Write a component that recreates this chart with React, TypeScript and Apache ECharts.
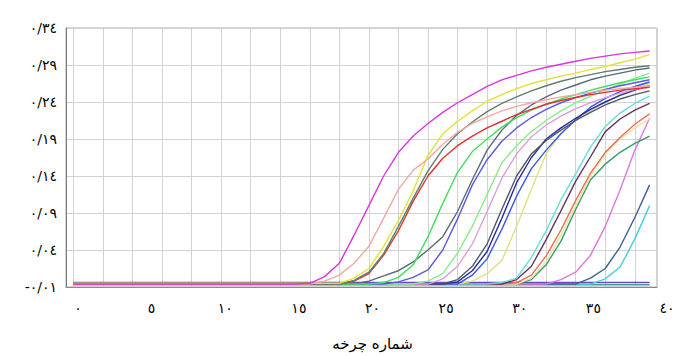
import React, { useEffect, useRef } from "react";
import * as echarts from "echarts";

// Cycles 1..40
const cycles = [
  1, 2, 3, 4, 5, 6, 7, 8, 9, 10, 11, 12, 13, 14, 15, 16, 17, 18, 19, 20,
  21, 22, 23, 24, 25, 26, 27, 28, 29, 30, 31, 32, 33, 34, 35, 36, 37, 38, 39, 40,
];

// Tick labels (values) of the axes
const yTicks = { min: -0.01, max: 0.34, step: 0.05 };
const xTicks = { min: 0, max: 40, step: 5 };
const xTitle = "شماره چرخه";

// Fluorescence per cycle (cycles 1..40)
const magenta = [
  -0.006, -0.006, -0.006, -0.006, -0.006, -0.006, -0.006, -0.006, -0.006, -0.006,
  -0.006, -0.006, -0.006, -0.006, -0.006, -0.006, -0.005, 0.004, 0.022, 0.06,
  0.1, 0.14, 0.172, 0.194, 0.211, 0.226, 0.239, 0.25, 0.261, 0.27,
  0.276, 0.282, 0.287, 0.291, 0.295, 0.299, 0.302, 0.305, 0.307, 0.309,
];
const salmon = [
  -0.006, -0.006, -0.006, -0.006, -0.006, -0.006, -0.006, -0.006, -0.006, -0.006,
  -0.006, -0.006, -0.006, -0.006, -0.006, -0.006, -0.006, -0.002, 0.006, 0.022,
  0.045, 0.083, 0.122, 0.148, 0.163, 0.183, 0.199, 0.211, 0.22, 0.228,
  0.234, 0.239, 0.243, 0.247, 0.25, 0.253, 0.256, 0.258, 0.26, 0.262,
];
const yellow = [
  -0.005, -0.005, -0.005, -0.005, -0.005, -0.005, -0.005, -0.005, -0.005, -0.005,
  -0.005, -0.005, -0.005, -0.005, -0.005, -0.005, -0.005, -0.005, -0.005, 0.002,
  0.015, 0.045, 0.08, 0.12, 0.168, 0.197, 0.214, 0.228, 0.241, 0.25,
  0.258, 0.265, 0.27, 0.275, 0.279, 0.284, 0.288, 0.293, 0.298, 0.304,
];
const slateGreen = [
  -0.006, -0.006, -0.006, -0.006, -0.006, -0.006, -0.006, -0.006, -0.006, -0.006,
  -0.006, -0.006, -0.006, -0.006, -0.006, -0.006, -0.006, -0.006, -0.006, -0.001,
  0.01, 0.035, 0.072, 0.11, 0.147, 0.176, 0.197, 0.213, 0.227, 0.238,
  0.247, 0.255, 0.262, 0.268, 0.273, 0.277, 0.281, 0.284, 0.287, 0.289,
];
const red = [
  -0.006, -0.006, -0.006, -0.006, -0.006, -0.006, -0.006, -0.006, -0.006, -0.006,
  -0.006, -0.006, -0.006, -0.006, -0.006, -0.006, -0.006, -0.006, -0.006, -0.002,
  0.008, 0.033, 0.066, 0.106, 0.14, 0.164, 0.181, 0.194, 0.205, 0.214,
  0.223, 0.23, 0.237, 0.242, 0.246, 0.25, 0.253, 0.256, 0.258, 0.26,
];
const green = [
  -0.006, -0.006, -0.006, -0.006, -0.006, -0.006, -0.006, -0.006, -0.006, -0.006,
  -0.006, -0.006, -0.006, -0.006, -0.006, -0.006, -0.006, -0.006, -0.006, -0.006,
  -0.006, -0.004, 0.003, 0.02, 0.058, 0.103, 0.145, 0.173, 0.19, 0.206,
  0.219, 0.229, 0.237, 0.244, 0.25, 0.256, 0.261, 0.266, 0.27, 0.274,
];
const slateGray = [
  -0.006, -0.006, -0.006, -0.006, -0.006, -0.006, -0.006, -0.006, -0.006, -0.006,
  -0.006, -0.006, -0.006, -0.006, -0.006, -0.006, -0.006, -0.006, -0.006, -0.006,
  -0.002, 0.005, 0.012, 0.024, 0.04, 0.058, 0.092, 0.135, 0.175, 0.202,
  0.222, 0.236, 0.247, 0.256, 0.263, 0.27, 0.275, 0.279, 0.283, 0.286,
];
const mediumBlue = [
  -0.006, -0.006, -0.006, -0.006, -0.006, -0.006, -0.006, -0.006, -0.006, -0.006,
  -0.006, -0.006, -0.006, -0.006, -0.006, -0.006, -0.006, -0.006, -0.006, -0.006,
  -0.006, -0.006, -0.003, 0.003, 0.013, 0.04, 0.082, 0.128, 0.162, 0.187,
  0.205, 0.219, 0.23, 0.239, 0.246, 0.252, 0.257, 0.262, 0.266, 0.27,
];
const lightGreen = [
  -0.006, -0.006, -0.006, -0.006, -0.006, -0.006, -0.006, -0.006, -0.006, -0.006,
  -0.006, -0.006, -0.006, -0.006, -0.006, -0.006, -0.006, -0.006, -0.006, -0.006,
  -0.006, -0.006, -0.006, -0.006, -0.002, 0.008, 0.036, 0.072, 0.115, 0.158,
  0.181, 0.2, 0.215, 0.228, 0.239, 0.248, 0.256, 0.264, 0.272, 0.279,
];
const plum = [
  -0.006, -0.006, -0.006, -0.006, -0.006, -0.006, -0.006, -0.006, -0.006, -0.006,
  -0.006, -0.006, -0.006, -0.006, -0.006, -0.006, -0.006, -0.006, -0.006, -0.006,
  -0.006, -0.006, -0.006, -0.006, -0.006, 0.001, 0.018, 0.048, 0.092, 0.137,
  0.17, 0.193, 0.209, 0.221, 0.231, 0.239, 0.246, 0.252, 0.257, 0.261,
];
const darkSlate = [
  -0.006, -0.006, -0.006, -0.006, -0.006, -0.006, -0.006, -0.006, -0.006, -0.006,
  -0.006, -0.006, -0.006, -0.006, -0.006, -0.006, -0.006, -0.006, -0.006, -0.006,
  -0.006, -0.006, -0.006, -0.006, -0.006, -0.006, 0.0, 0.018, 0.048, 0.095,
  0.14, 0.17, 0.188, 0.202, 0.215, 0.226, 0.236, 0.244, 0.25, 0.255,
];
const navy = [
  -0.006, -0.006, -0.006, -0.006, -0.006, -0.006, -0.006, -0.006, -0.006, -0.006,
  -0.006, -0.006, -0.006, -0.006, -0.006, -0.006, -0.006, -0.006, -0.006, -0.006,
  -0.006, -0.006, -0.006, -0.006, -0.006, -0.006, -0.003, 0.012, 0.038, 0.083,
  0.131, 0.165, 0.19, 0.205, 0.218, 0.23, 0.24, 0.249, 0.256, 0.262,
];
const royalBlue = [
  -0.006, -0.006, -0.006, -0.006, -0.006, -0.006, -0.006, -0.006, -0.006, -0.006,
  -0.006, -0.006, -0.006, -0.006, -0.006, -0.006, -0.006, -0.006, -0.006, -0.006,
  -0.006, -0.006, -0.006, -0.006, -0.006, -0.006, -0.006, 0.006, 0.028, 0.068,
  0.113, 0.15, 0.175, 0.197, 0.216, 0.233, 0.245, 0.254, 0.261, 0.267,
];
const khaki = [
  -0.006, -0.006, -0.006, -0.006, -0.006, -0.006, -0.006, -0.006, -0.006, -0.006,
  -0.006, -0.006, -0.006, -0.006, -0.006, -0.006, -0.006, -0.006, -0.006, -0.006,
  -0.006, -0.006, -0.006, -0.006, -0.006, -0.006, -0.006, -0.002, 0.008, 0.026,
  0.072, 0.122, 0.17, 0.198, 0.215, 0.228, 0.24, 0.25, 0.258, 0.265,
];
const cyan = [
  -0.006, -0.006, -0.006, -0.006, -0.006, -0.006, -0.006, -0.006, -0.006, -0.006,
  -0.006, -0.006, -0.006, -0.006, -0.006, -0.006, -0.006, -0.006, -0.006, -0.006,
  -0.006, -0.006, -0.006, -0.006, -0.006, -0.006, -0.006, -0.006, -0.006, -0.004,
  0.002, 0.03, 0.066, 0.108, 0.143, 0.179, 0.207, 0.225, 0.238, 0.248,
];
const maroon = [
  -0.006, -0.006, -0.006, -0.006, -0.006, -0.006, -0.006, -0.006, -0.006, -0.006,
  -0.006, -0.006, -0.006, -0.006, -0.006, -0.006, -0.006, -0.006, -0.006, -0.006,
  -0.006, -0.006, -0.006, -0.006, -0.006, -0.006, -0.006, -0.006, -0.006, -0.006,
  0.0, 0.018, 0.054, 0.093, 0.133, 0.166, 0.2, 0.217, 0.229, 0.238,
];
const tomato = [
  -0.006, -0.006, -0.006, -0.006, -0.006, -0.006, -0.006, -0.006, -0.006, -0.006,
  -0.006, -0.006, -0.006, -0.006, -0.006, -0.006, -0.006, -0.006, -0.006, -0.006,
  -0.006, -0.006, -0.006, -0.006, -0.006, -0.006, -0.006, -0.006, -0.006, -0.006,
  -0.004, 0.006, 0.032, 0.067, 0.107, 0.144, 0.172, 0.192, 0.21, 0.224,
];
const paleYellow = [
  -0.006, -0.006, -0.006, -0.006, -0.006, -0.006, -0.006, -0.006, -0.006, -0.006,
  -0.006, -0.006, -0.006, -0.006, -0.006, -0.006, -0.006, -0.006, -0.006, -0.006,
  -0.006, -0.006, -0.006, -0.006, -0.006, -0.006, -0.006, -0.006, -0.006, -0.006,
  -0.006, 0.002, 0.024, 0.06, 0.1, 0.14, 0.17, 0.19, 0.205, 0.217,
];
const seaGreen = [
  -0.006, -0.006, -0.006, -0.006, -0.006, -0.006, -0.006, -0.006, -0.006, -0.006,
  -0.006, -0.006, -0.006, -0.006, -0.006, -0.006, -0.006, -0.006, -0.006, -0.006,
  -0.006, -0.006, -0.006, -0.006, -0.006, -0.006, -0.006, -0.006, -0.006, -0.006,
  -0.006, 0.0, 0.02, 0.052, 0.095, 0.135, 0.156, 0.172, 0.184, 0.194,
];
const orchid = [
  -0.006, -0.006, -0.006, -0.006, -0.006, -0.006, -0.006, -0.006, -0.006, -0.006,
  -0.006, -0.006, -0.006, -0.006, -0.006, -0.006, -0.006, -0.006, -0.006, -0.006,
  -0.006, -0.006, -0.006, -0.006, -0.006, -0.006, -0.006, -0.006, -0.006, -0.006,
  -0.006, -0.006, -0.006, 0.0, 0.01, 0.033, 0.072, 0.121, 0.175, 0.218,
];
const darkSlateBlue = [
  -0.006, -0.006, -0.006, -0.006, -0.006, -0.006, -0.006, -0.006, -0.006, -0.006,
  -0.006, -0.006, -0.006, -0.006, -0.006, -0.006, -0.006, -0.006, -0.006, -0.006,
  -0.006, -0.006, -0.006, -0.006, -0.006, -0.006, -0.006, -0.006, -0.006, -0.006,
  -0.006, -0.006, -0.006, -0.006, -0.006, 0.002, 0.015, 0.044, 0.084, 0.128,
];
const cyan2 = [
  -0.006, -0.006, -0.006, -0.006, -0.006, -0.006, -0.006, -0.006, -0.006, -0.006,
  -0.006, -0.006, -0.006, -0.006, -0.006, -0.006, -0.006, -0.006, -0.006, -0.006,
  -0.006, -0.006, -0.006, -0.006, -0.006, -0.006, -0.006, -0.006, -0.006, -0.006,
  -0.006, -0.006, -0.006, -0.006, -0.006, -0.006, 0.001, 0.017, 0.055, 0.1,
];
const flatPurple = [
  -0.004, -0.004, -0.004, -0.004, -0.004, -0.004, -0.004, -0.004, -0.004, -0.004,
  -0.004, -0.004, -0.004, -0.004, -0.004, -0.004, -0.004, -0.004, -0.004, -0.004,
  -0.004, -0.004, -0.004, -0.004, -0.004, -0.004, -0.004, -0.004, -0.004, -0.004,
  -0.004, -0.004, -0.004, -0.004, -0.004, -0.004, -0.004, -0.004, -0.004, -0.004,
];
const flatTeal = [
  -0.007, -0.007, -0.007, -0.007, -0.007, -0.007, -0.007, -0.007, -0.007, -0.007,
  -0.007, -0.007, -0.007, -0.007, -0.007, -0.007, -0.007, -0.007, -0.007, -0.007,
  -0.007, -0.007, -0.007, -0.007, -0.007, -0.007, -0.007, -0.007, -0.007, -0.007,
  -0.007, -0.007, -0.007, -0.007, -0.007, -0.007, -0.007, -0.007, -0.007, -0.007,
];

const curves: [number[], string][] = [
  [flatPurple, "#6a4ac0"],
  [flatTeal, "#4a9aaa"],
  [cyan2, "#44d0d8"],
  [darkSlateBlue, "#3f5f8f"],
  [orchid, "#de78de"],
  [seaGreen, "#3a9a6a"],
  [paleYellow, "#e6e6a0"],
  [tomato, "#ee6a5a"],
  [maroon, "#663355"],
  [cyan, "#66dcdc"],
  [khaki, "#e2e27e"],
  [royalBlue, "#3355ee"],
  [navy, "#2a2aa0"],
  [darkSlate, "#4a5a6a"],
  [plum, "#dca0dc"],
  [lightGreen, "#88ee88"],
  [mediumBlue, "#5a5ae0"],
  [slateGray, "#5a6878"],
  [green, "#3ee05a"],
  [red, "#e03030"],
  [slateGreen, "#5f7f6f"],
  [yellow, "#e2e238"],
  [salmon, "#f4a8a0"],
  [magenta, "#dd33dd"],
];

const toArabicDigits = (s: string) =>
  s.replace(/[0-9]/g, (d) => String.fromCharCode(0x0660 + Number(d))).replace(".", "/");

const FONT = "'DejaVu Sans', serif";

export default function App() {
  const ref = useRef<HTMLDivElement>(null);
  useEffect(() => {
    if (!ref.current) return;
    const chart = echarts.init(ref.current, undefined, { renderer: "svg" });
    chart.setOption({
      animation: false,
      backgroundColor: "#ffffff",
      grid: [
        { left: 66, right: 22, top: 28, bottom: 69, show: true, borderColor: "#a8a8a8", borderWidth: 1 },
        { left: 78, right: 12, top: 28, bottom: 69, show: false },
      ],
      xAxis: [
        {
          type: "category",
          gridIndex: 0,
          data: cycles.map(String),
          boundaryGap: true,
          axisLine: { show: true, onZero: false, lineStyle: { color: "#8a8a8a", width: 1 } },
          axisTick: { show: false },
          axisLabel: { show: false },
          splitLine: { show: true, alignWithLabel: true, lineStyle: { color: "#d2d2d2", width: 1 } },
        },
        {
          type: "value",
          gridIndex: 1,
          min: xTicks.min,
          max: xTicks.max,
          interval: xTicks.step,
          axisLine: { show: false, onZero: false },
          axisTick: { show: false },
          splitLine: { show: false },
          axisLabel: {
            margin: 20,
            color: "#000",
            fontSize: 14,
            fontFamily: FONT,
            formatter: (v: number) => toArabicDigits(String(Math.round(v))),
          },
          name: xTitle,
          nameLocation: "middle",
          nameGap: 55,
          nameTextStyle: { color: "#000", fontSize: 15, fontFamily: FONT },
        },
      ],
      yAxis: [
        {
          type: "value",
          gridIndex: 0,
          min: yTicks.min,
          max: yTicks.max,
          interval: yTicks.step,
          axisLine: { show: true, onZero: false, lineStyle: { color: "#7a7a7a", width: 1 } },
          axisTick: { show: false },
          splitLine: { show: true, lineStyle: { color: "#d2d2d2", width: 1 } },
          axisLabel: {
            margin: 9,
            color: "#000",
            fontSize: 14,
            fontFamily: FONT,
            padding: [0, 0, 6, 0],
            formatter: (v: number) => toArabicDigits((Math.round(v * 100) / 100).toFixed(2)),
          },
        },
        { type: "value", gridIndex: 1, show: false, min: 0, max: 1 },
      ],
      series: curves.map(([data, color]) => ({
        type: "line",
        xAxisIndex: 0,
        yAxisIndex: 0,
        data,
        symbol: "none",
        showSymbol: false,
        silent: true,
        lineStyle: { color, width: 1.4 },
        itemStyle: { color },
      })),
    });
    return () => chart.dispose();
  }, []);
  return (
    <div
      ref={ref}
      style={{ position: "fixed", left: 0, top: 0, width: 679, height: 356, background: "#fff" }}
    />
  );
}
